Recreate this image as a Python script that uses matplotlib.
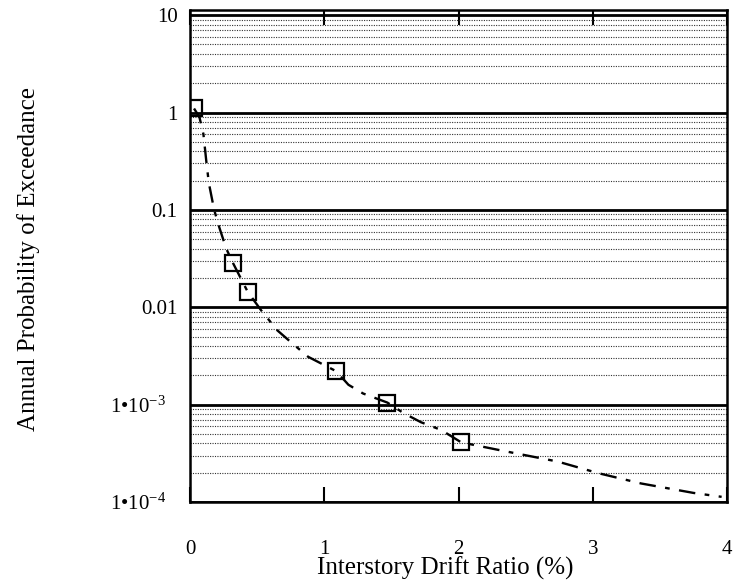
import matplotlib
matplotlib.use("Agg")
import matplotlib.pyplot as plt
from matplotlib.ticker import FixedLocator, LogLocator, NullFormatter

# ---- data ----
point_x = [0.03, 0.32, 0.43, 1.09, 1.47, 2.02]
point_y = [1.12, 0.0285, 0.0144, 0.0022, 0.00105, 0.00041]

curve_x = [0.03, 0.07, 0.10, 0.12, 0.14, 0.18, 0.22, 0.27, 0.32, 0.43, 0.53,
           0.65, 0.75, 0.88, 1.09, 1.18, 1.29, 1.47, 1.59, 1.72, 1.87, 2.02,
           2.31, 2.74, 3.04, 3.36, 3.75, 3.96]
curve_y = [1.1, 0.9, 0.6, 0.33, 0.19, 0.10, 0.065, 0.040, 0.0285, 0.0144, 0.0093,
           0.0058, 0.0044, 0.0031, 0.0022, 0.0016, 0.0013, 0.00105, 0.00082, 0.00066,
           0.00055, 0.00041, 0.00034, 0.00026, 0.000198, 0.000155, 0.000124, 0.000113]

x_ticks = [0, 1, 2, 3, 4]
x_tick_labels = ["0", "1", "2", "3", "4"]
y_ticks = [1e-4, 1e-3, 1e-2, 1e-1, 1, 10]
y_tick_labels = ["1\u2022$10^{-4}$   ", "1\u2022$10^{-3}$   ", "0.01", "0.1", "1", "10"]

x_label = "Interstory Drift Ratio (%)"
y_label = "Annual Probability of Exceedance"

# ---- style ----
plt.rcParams["font.family"] = ["Liberation Serif", "DejaVu Serif"]
plt.rcParams["mathtext.fontset"] = "custom"
plt.rcParams["mathtext.rm"] = "Liberation Serif"
plt.rcParams["mathtext.it"] = "Liberation Serif"
plt.rcParams["mathtext.bf"] = "Liberation Serif:bold"
plt.rcParams["mathtext.default"] = "rm"

fig = plt.figure(figsize=(7.37, 5.84), dpi=100)
ax = fig.add_axes([190 / 737, 1 - 502 / 584, 537 / 737, 492 / 584])

ax.set_yscale("log")
ax.set_xlim(0, 4)
ax.set_ylim(1e-4, 11.3)

# grid lines
ax.yaxis.set_major_locator(FixedLocator(y_ticks))
ax.yaxis.set_minor_locator(LogLocator(base=10, subs=range(2, 10), numticks=20))
ax.yaxis.set_minor_formatter(NullFormatter())
ax.grid(True, which="major", axis="y", color="black", lw=2.0)
ax.grid(True, which="minor", axis="y", color="0.2", lw=0.8, linestyle=(0, (1, 1.2)))
ax.set_axisbelow(True)

ax.plot(curve_x, curve_y, color="black", lw=1.7, linestyle=(0, (7, 4, 2, 4)), zorder=3)
ax.plot(point_x, point_y, linestyle="none", marker="s", markersize=11,
        markerfacecolor="none", markeredgecolor="black", markeredgewidth=1.6, zorder=4)

ax.set_xticks(x_ticks)
ax.set_xticklabels(x_tick_labels)
ax.set_yticklabels(y_tick_labels)

ax.tick_params(axis="x", which="major", direction="in", length=11, width=1.5,
               top=True, labelsize=15, pad=27)
ax.tick_params(axis="y", which="both", length=0, labelsize=15, pad=9)

for s in ax.spines.values():
    s.set_linewidth(1.8)
    s.set_color("black")

ax.set_xlabel(x_label, fontsize=18)
ax.xaxis.set_label_coords((445 - 190) / 537, (502 - 557) / 492)
ax.set_ylabel(y_label, fontsize=18)
ax.yaxis.set_label_coords((40 - 190) / 537, (502 - 259) / 492)

fig.savefig("out.png", dpi=100)
